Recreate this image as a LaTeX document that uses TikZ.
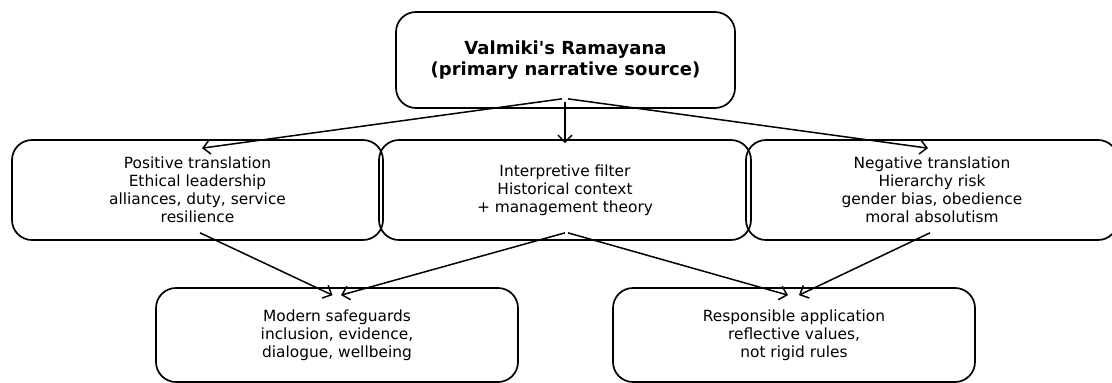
\documentclass[tikz,border=0pt]{standalone}
\usepackage{fontspec}
\setmainfont{DejaVu Sans}
\usetikzlibrary{arrows.meta,calc}
\begin{document}
\begin{tikzpicture}[x=1pt,y=-1pt,
  box/.style={draw=black,line width=1.7pt,rounded corners=20pt,inner sep=0pt,align=center,
    font=\fontsize{15.4pt}{18pt}\selectfont},
  topbox/.style={box,font=\fontsize{18pt}{21.5pt}\selectfont\bfseries},
  conn/.style={line width=1.5pt,-{Straight Barb[length=7pt,width=14pt,line width=1.5pt]}}]
\useasboundingbox (0,0) rectangle (1112,383);
\node[topbox,minimum width=339pt,minimum height=96pt] (top) at (565.5,60) {Valmiki\textquotesingle s Ramayana\\(primary narrative source)};
\node[box,minimum width=371pt,minimum height=100pt] (pos) at (197.5,190) {Positive translation\\Ethical leadership\\alliances, duty, service\\resilience};
\node[box,minimum width=372pt,minimum height=100pt] (mid) at (565,190) {Interpretive filter\\Historical context\\+ management theory};
\node[box,minimum width=372pt,minimum height=100pt] (neg) at (932,190) {Negative translation\\Hierarchy risk\\gender bias, obedience\\moral absolutism};
\node[box,minimum width=362pt,minimum height=94pt] (safe) at (337,335) {Modern safeguards\\inclusion, evidence,\\dialogue, wellbeing};
\node[box,minimum width=362pt,minimum height=94pt] (resp) at (794,335) {Responsible application\\reflective values,\\not rigid rules};
% connector ends inside the nodes
\coordinate (topL) at ($(top.south)+(-3.5,-10)$);
\coordinate (topR) at ($(top.south)+(2.5,-10)$);
\coordinate (topM) at ($(top.south)+(-0.5,-7)$);
\coordinate (posIn) at ($(pos.north)+(4.5,9)$);
\coordinate (midIn) at ($(mid.north)+(0,4)$);
\coordinate (negIn) at ($(neg.north)+(-4,9)$);
\coordinate (posOut) at ($(pos.south)+(2.5,-8)$);
\coordinate (midOutL) at ($(mid.south)+(0,-8)$);
\coordinate (midOutR) at ($(mid.south)+(3,-8)$);
\coordinate (negOut) at ($(neg.south)+(-2,-8)$);
\coordinate (safeL) at ($(safe.north)+(-4.5,8)$);
\coordinate (safeR) at ($(safe.north)+(4,8)$);
\coordinate (respL) at ($(resp.north)+(-6,8)$);
\coordinate (respR) at ($(resp.north)+(5,8)$);
\draw[conn] (topL) -- (posIn);
\draw[conn] (topM) -- (midIn);
\draw[conn] (topR) -- (negIn);
\draw[conn] (posOut) -- (safeL);
\draw[conn] (midOutL) -- (safeR);
\draw[conn] (midOutR) -- (respL);
\draw[conn] (negOut) -- (respR);
\end{tikzpicture}
\end{document}
